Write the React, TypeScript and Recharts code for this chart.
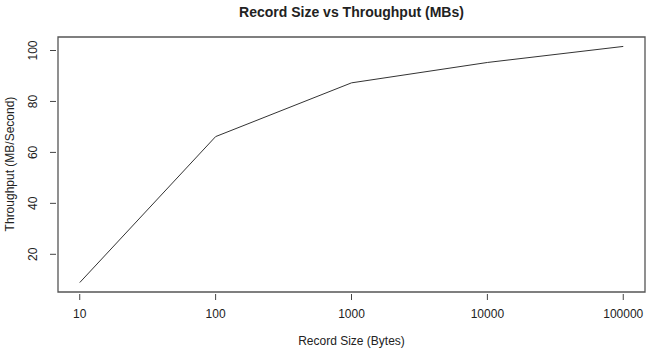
import { LineChart, Line, XAxis, YAxis, ReferenceArea } from 'recharts'

const recordSizes = [10, 100, 1000, 10000, 100000]
const throughput = [8.9, 66.2, 87.3, 95.3, 101.6]
const xTicks = [10, 100, 1000, 10000, 100000]
const yTicks = [20, 40, 60, 80, 100]

const data = recordSizes.map((size, i) => ({ size, mbs: throughput[i] }))

const X_DOMAIN: [number, number] = [6.918, 144544]
const Y_DOMAIN: [number, number] = [5.2, 105.3]
const FONT = '"Liberation Sans", Arial, Helvetica, sans-serif'

function XTick({ x, y, payload }: any) {
  return (
    <g>
      <line x1={x} y1={y - 6} x2={x} y2={y} stroke="#444" strokeWidth={1} />
      <text x={x} y={y + 14} textAnchor="middle" dominantBaseline="central" fontSize={12} fontFamily={FONT} fill="#222">
        {payload.value}
      </text>
    </g>
  )
}

function YTick({ x, y, payload }: any) {
  const lx = x - 17
  return (
    <g>
      <line x1={x} y1={y} x2={x + 6} y2={y} stroke="#444" strokeWidth={1} />
      <text
        x={lx} y={y}
        transform={`rotate(-90, ${lx}, ${y})`}
        textAnchor="middle" dominantBaseline="central"
        fontSize={12} fontFamily={FONT} fill="#222"
      >
        {payload.value}
      </text>
    </g>
  )
}

export default function App() {
  return (
    <div style={{ position: 'absolute', left: 0, top: 0, width: 650, height: 352, background: '#fff', fontFamily: FONT }}>
      <LineChart width={650} height={352} data={data} margin={{ top: 37, right: 5, left: 0, bottom: 0 }}>
        <XAxis
          dataKey="size" type="number" scale="log" domain={X_DOMAIN} allowDataOverflow
          ticks={xTicks} interval={0} axisLine={false} tickLine={false} height={60}
          tick={<XTick />}
        />
        <YAxis
          type="number" domain={Y_DOMAIN} allowDataOverflow ticks={yTicks} interval={0}
          axisLine={false} tickLine={false} width={58} tick={<YTick />}
        />
        <ReferenceArea
          x1={X_DOMAIN[0]} x2={X_DOMAIN[1]} y1={Y_DOMAIN[0]} y2={Y_DOMAIN[1]}
          fill="none" fillOpacity={0} stroke="#555" strokeWidth={1.3} ifOverflow="visible"
        />
        <Line type="linear" dataKey="mbs" stroke="#333" strokeWidth={1} dot={false} isAnimationActive={false} />
      </LineChart>
      <div style={{ position: 'absolute', left: 58, width: 587, top: 4, textAlign: 'center', fontSize: 14, fontWeight: 'bold', color: '#222' }}>
        Record Size vs Throughput (MBs)
      </div>
      <div style={{ position: 'absolute', left: 58, width: 587, top: 334, textAlign: 'center', fontSize: 12, color: '#222' }}>
        Record Size (Bytes)
      </div>
      <div
        style={{
          position: 'absolute', left: 10, top: 164, width: 200, marginLeft: -100, marginTop: -8, height: 16,
          lineHeight: '16px', textAlign: 'center', fontSize: 12, color: '#222', transform: 'rotate(-90deg)',
        }}
      >
        Throughput (MB/Second)
      </div>
    </div>
  )
}
